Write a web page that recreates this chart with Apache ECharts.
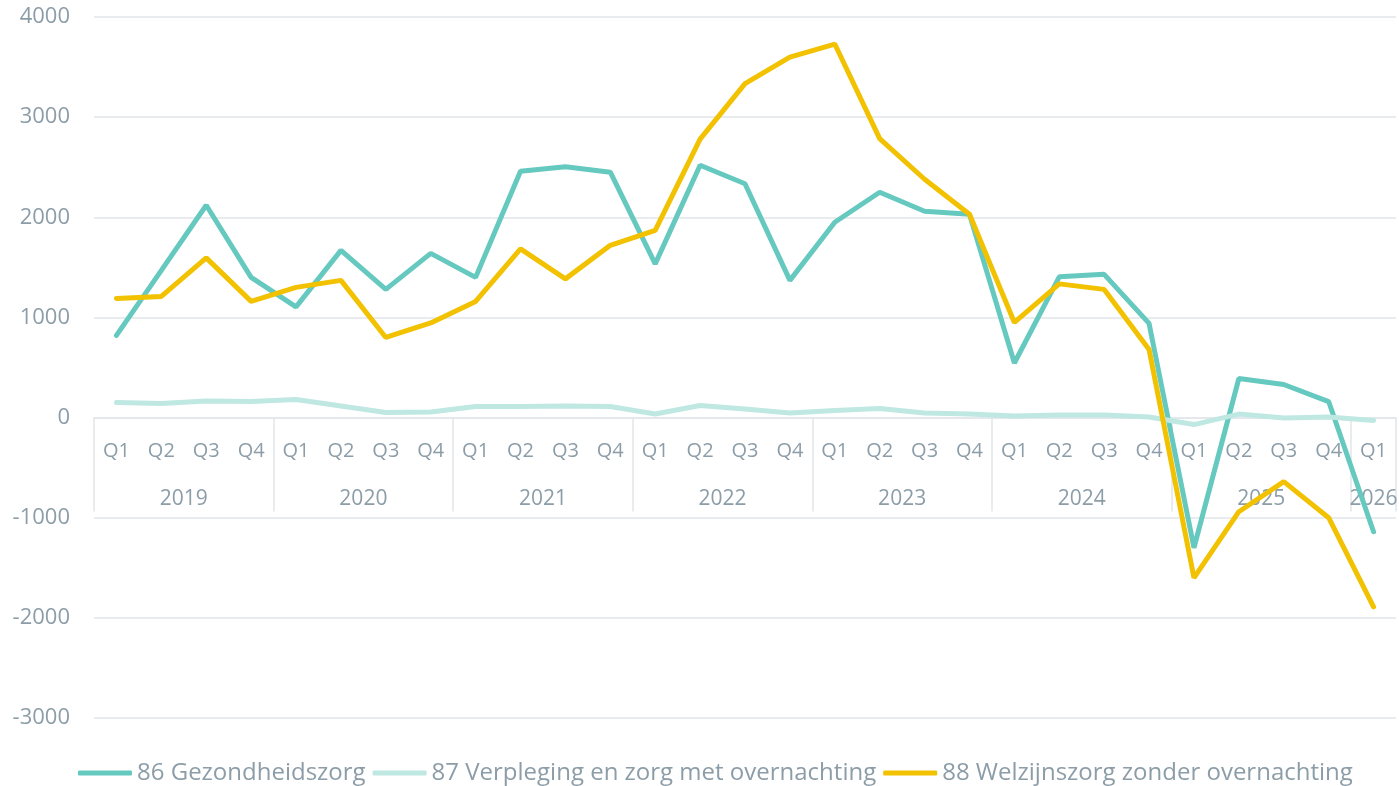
<!DOCTYPE html>
<html>
<head>
<meta charset="utf-8">
<script src="https://cdn.jsdelivr.net/npm/echarts@6/dist/echarts.min.js"></script>
<style>
html,body{margin:0;padding:0;background:#fff;}
#chart{width:1399px;height:786px;}
</style>
</head>
<body>
<div id="chart"></div>
<script>
// ---- data ----
const quarters = ['Q1','Q2','Q3','Q4','Q1','Q2','Q3','Q4','Q1','Q2','Q3','Q4','Q1','Q2','Q3','Q4',
                  'Q1','Q2','Q3','Q4','Q1','Q2','Q3','Q4','Q1','Q2','Q3','Q4','Q1'];
const years = ['2019','2020','2021','2022','2023','2024','2025','2026'];
const quartersPerYear = [4,4,4,4,4,4,4,1];
const seriesNames = ['86 Gezondheidszorg','87 Verpleging en zorg met overnachting','88 Welzijnszorg zonder overnachting'];
const gezondheidszorg = [820,1470,2120,1400, 1105,1670,1280,1640, 1400,2460,2505,2450, 1535,2520,2335,1370,
                         1950,2250,2060,2030, 545,1405,1430,940, -1300,390,330,160, -1140];
const verpleging = [150,140,165,160, 180,115,50,55, 110,110,115,110, 35,120,85,45,
                    70,90,45,35, 15,25,25,5, -70,35,-5,5, -30];
const welzijnszorg = [1190,1210,1595,1160, 1300,1370,800,945, 1160,1685,1385,1720, 1870,2780,3335,3600,
                      3730,2785,2380,2030, 950,1335,1280,680, -1600,-940,-640,-1000, -1890];
const yTicks = {min:-3000, max:4000, interval:1000};

// ---- build a half-quarter slot axis: even slots = boundaries, odd slots = quarter centres ----
const nQ = quarters.length;
const nSlots = 2*nQ + 1;
const line1 = new Array(nSlots).fill('');
const line2 = new Array(nSlots).fill('');
quarters.forEach((q,i)=>{ line1[2*i+1] = q; });
const sepSlots = new Set([2*nQ]);
let start = 0;
years.forEach((y,k)=>{
  const n = quartersPerYear[k];
  line2[2*start + n] = y;
  sepSlots.add(2*start);
  start += n;
});
const slotLabels = line1.map((a,i)=>{
  const b = line2[i];
  if (!a && !b) return '';
  return '{q|' + (a||' ') + '}\n{y|' + (b||' ') + '}';
});
const toSlots = arr => arr.map((v,i)=>[2*i+1, v]);

const gridBox = {left:94,right:3,top:17,bottom:68};
const chartH = 786;
// place the x axis on the zero line of the value axis
const plotH = chartH - gridBox.top - gridBox.bottom;
const zeroOffset = -plotH * (0 - yTicks.min) / (yTicks.max - yTicks.min);

const txt = '#8c9da8';
const grid = '#e2e6e9';
const font = 'Open Sans';
const chart = echarts.init(document.getElementById('chart'));
chart.setOption({
  animation:false,
  textStyle:{fontFamily:font, color:txt},
  grid:Object.assign({containLabel:false,outerBoundsMode:'none'}, gridBox),
  legend:{
    top:756, left:73,
    icon:'roundRect',
    itemWidth:54, itemHeight:5, itemGap:7,
    textStyle:{fontSize:24,color:txt,fontFamily:font},
    data:seriesNames
  },
  xAxis:{
    type:'category', data:slotLabels, boundaryGap:false, position:'bottom',
    offset:zeroOffset,
    axisLine:{onZero:false,lineStyle:{color:grid,width:1.5}},
    axisTick:{show:true,length:94,lineStyle:{color:grid,width:1.5},
      interval:function(i){return sepSlots.has(i);}},
    axisLabel:{color:txt,margin:22,
      interval:function(i,v){return v!=='';},
      rich:{
        q:{fontFamily:font,fontSize:20,lineHeight:24,color:txt},
        y:{fontFamily:font,fontSize:21,lineHeight:70,color:txt}
      }}
  },
  yAxis:{
    type:'value', min:yTicks.min, max:yTicks.max, interval:yTicks.interval,
    axisLine:{show:false}, axisTick:{show:false},
    axisLabel:{color:txt,fontSize:22,margin:24,formatter:function(v){return String(v);}},
    splitLine:{lineStyle:{color:grid,width:1.5}}
  },
  series:[
    {name:seriesNames[0],type:'line',data:toSlots(gezondheidszorg),symbol:'none',color:'#66c9bf',
     lineStyle:{width:5,color:'#66c9bf',cap:'round'}},
    {name:seriesNames[1],type:'line',data:toSlots(verpleging),symbol:'none',color:'#bfe8e3',
     lineStyle:{width:5,color:'#bfe8e3',cap:'round'}},
    {name:seriesNames[2],type:'line',data:toSlots(welzijnszorg),symbol:'none',color:'#f2c100',
     lineStyle:{width:5,color:'#f2c100',cap:'round'}}
  ]
});
</script>
</body>
</html>
